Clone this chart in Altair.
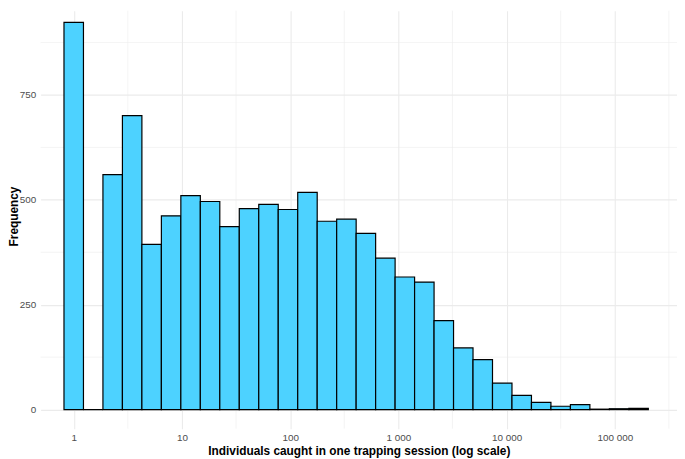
import altair as alt
import pandas as pd

# Histogram counts (30 bins on log10 scale, bin centers at multiples of BIN_W decades)
counts = [923, 0, 560, 701, 394, 462, 510, 496, 436, 479, 489, 477, 518, 449, 454,
          420, 361, 316, 304, 212, 147, 119, 63, 34, 17, 8, 12, 1, 2, 3]
BIN_W = 0.18  # bin width in log10 units (first bin centered on 1)

x_ticks = [1, 10, 100, 1000, 10000, 100000]
x_minor = [10 ** 0.5, 10 ** 1.5, 10 ** 2.5, 10 ** 3.5, 10 ** 4.5, 10 ** 5.5]
y_ticks = [0, 250, 500, 750]
y_minor = [125, 375, 625, 875]

bins = pd.DataFrame({
    "lo": [10 ** ((i - 0.5) * BIN_W) for i in range(len(counts))],
    "hi": [10 ** ((i + 0.5) * BIN_W) for i in range(len(counts))],
    "count": counts,
    "zero": [0] * len(counts),
})

W, H = 644, 423
FONT = "Liberation Sans"

xscale = alt.Scale(type="log", domain=[10 ** -0.306, 10 ** 5.575], nice=False)
yscale = alt.Scale(domain=[-45.5, 951.0], nice=False, zero=False)

xminor = alt.Chart(pd.DataFrame({"v": x_minor})).mark_rule(
    color="#EBEBEB", strokeWidth=0.55
).encode(x=alt.X("v:Q", scale=xscale), y=alt.value(0), y2=alt.value(H))

yminor = alt.Chart(pd.DataFrame({"v": y_minor})).mark_rule(
    color="#EBEBEB", strokeWidth=0.55
).encode(y=alt.Y("v:Q", scale=yscale), x=alt.value(0), x2=alt.value(W))

bars = alt.Chart(bins).mark_rect(
    fill="#4DD2FF", stroke="#000000", strokeWidth=1.2
).encode(
    x=alt.X("lo:Q", scale=xscale, axis=alt.Axis(
        values=x_ticks,
        labelExpr="datum.value >= 1000 ? format(datum.value / 1000, 'd') + ' 000' : format(datum.value, 'd')",
        title="Individuals caught in one trapping session (log scale)",
        grid=True, gridColor="#EBEBEB", gridWidth=1.1,
        ticks=False, tickSize=0, domain=False,
        labelFont=FONT, labelFontSize=10, labelColor="#4D4D4D", labelPadding=4,
        labelFlush=False, labelOverlap=False,
        titleFont=FONT, titleFontSize=12, titleFontWeight="bold", titleColor="#000000",
        titleBaseline="alphabetic", titleY=26.5,
    )),
    x2="hi:Q",
    y=alt.Y("count:Q", scale=yscale, axis=alt.Axis(
        values=y_ticks, title="Frequency",
        grid=True, gridColor="#EBEBEB", gridWidth=1.1,
        ticks=False, tickSize=0, domain=False,
        labelFont=FONT, labelFontSize=10, labelColor="#4D4D4D", labelPadding=5,
        labelFlush=False, labelOverlap=False,
        titleFont=FONT, titleFontSize=12, titleFontWeight="bold", titleColor="#000000",
        titleAngle=270, titleAlign="center", titleBaseline="alphabetic",
        titleX=-23.5, titleY=207.8,
    )),
    y2="zero:Q",
)

chart = alt.layer(xminor, yminor, bars).properties(
    width=W, height=H,
    autosize=alt.AutoSizeParams(type="none"),
    padding={"left": 33, "top": 0, "right": 0, "bottom": 28},
    background="white",
).configure_view(stroke=None, strokeWidth=0)

chart.save("out.html", embed_options={"renderer": "svg", "actions": False})
